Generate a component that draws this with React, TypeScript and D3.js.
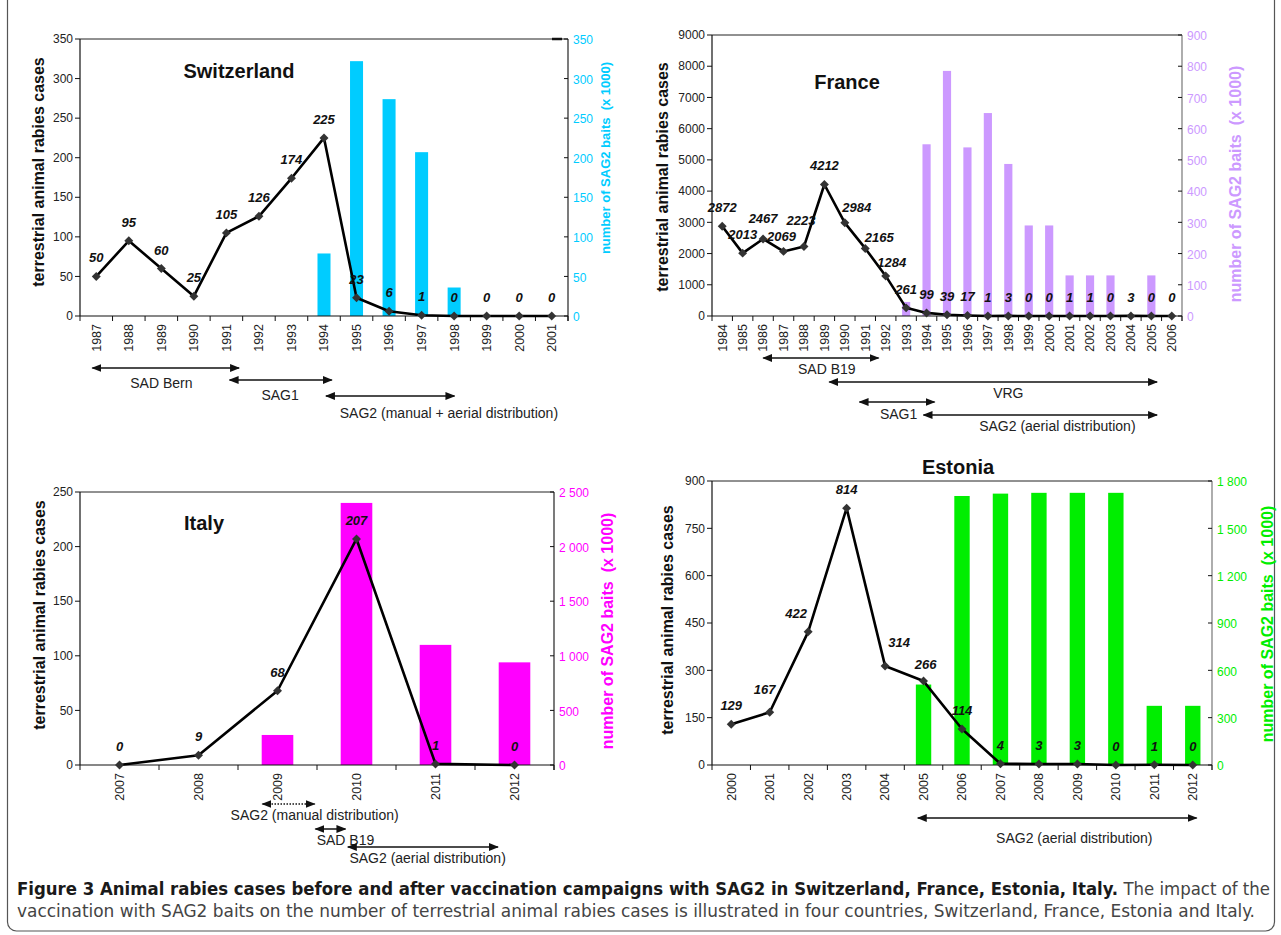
import React from "react";
import * as d3 from "d3";

const FONT = "'Liberation Sans', Arial, Helvetica, sans-serif";

// Switzerland
const swissYears = [1987, 1988, 1989, 1990, 1991, 1992, 1993, 1994, 1995, 1996, 1997, 1998, 1999, 2000, 2001];
const swissCases = [50, 95, 60, 25, 105, 126, 174, 225, 23, 6, 1, 0, 0, 0, 0];
const swissBaits = [null, null, null, null, null, null, null, 79, 322, 274, 207, 36, null, null, null];
const swissCaseTicks = [0, 50, 100, 150, 200, 250, 300, 350];
const swissBaitTicks = [0, 50, 100, 150, 200, 250, 300, 350];
const swissBaitLabels = ["0", "50", "100", "150", "200", "250", "300", "350"];
const swissRegimens = [
  { name: "SAD Bern", from: 1986.88, to: 1991.39, at: 1989.0, dotted: false },
  { name: "SAG1", from: 1991.1, to: 1994.24, at: 1992.65, dotted: false },
  { name: "SAG2 (manual + aerial distribution)", from: 1994.06, to: 1998.01, at: 1997.84, dotted: false },
];

// France
const franceYears = [1984, 1985, 1986, 1987, 1988, 1989, 1990, 1991, 1992, 1993, 1994, 1995, 1996, 1997, 1998, 1999, 2000, 2001, 2002, 2003, 2004, 2005, 2006];
const franceCases = [2872, 2013, 2467, 2069, 2223, 4212, 2984, 2165, 1284, 261, 99, 39, 17, 1, 3, 0, 0, 1, 1, 0, 3, 0, 0];
const franceBaits = [null, null, null, null, null, null, null, null, null, 45, 550, 785, 540, 650, 487, 290, 290, 130, 130, 130, null, 130, null];
const franceCaseTicks = [0, 1000, 2000, 3000, 4000, 5000, 6000, 7000, 8000, 9000];
const franceBaitTicks = [0, 100, 200, 300, 400, 500, 600, 700, 800, 900];
const franceBaitLabels = ["0", "100", "200", "300", "400", "500", "600", "700", "800", "900"];
const franceRegimens = [
  { name: "SAD B19", from: 1986.01, to: 1991.65, at: 1989.12, dotted: false },
  { name: "VRG", from: 1989.24, to: 2005.28, at: 1998.0, dotted: false },
  { name: "SAG1", from: 1990.72, to: 1994.39, at: 1992.63, dotted: false },
  { name: "SAG2 (aerial distribution)", from: 1993.85, to: 2005.28, at: 2000.4, dotted: false },
];

// Italy
const italyYears = [2007, 2008, 2009, 2010, 2011, 2012];
const italyCases = [0, 9, 68, 207, 1, 0];
const italyBaits = [null, null, 275, 2400, 1100, 940];
const italyCaseTicks = [0, 50, 100, 150, 200, 250];
const italyBaitTicks = [0, 500, 1000, 1500, 2000, 2500];
const italyBaitLabels = ["0", "500", "1 000", "1 500", "2 000", "2 500"];
const italyRegimens = [
  { name: "SAG2 (manual distribution)", from: 2008.81, to: 2009.47, at: 2009.47, dotted: true },
  { name: "SAD B19", from: 2009.48, to: 2009.86, at: 2009.86, dotted: false },
  { name: "SAG2 (aerial distribution)", from: 2009.89, to: 2011.79, at: 2010.9, dotted: false },
];

// Estonia
const estoniaYears = [2000, 2001, 2002, 2003, 2004, 2005, 2006, 2007, 2008, 2009, 2010, 2011, 2012];
const estoniaCases = [129, 167, 422, 814, 314, 266, 114, 4, 3, 3, 0, 1, 0];
const estoniaBaits = [null, null, null, null, null, 510, 1705, 1720, 1725, 1725, 1725, 375, 375];
const estoniaCaseTicks = [0, 150, 300, 450, 600, 750, 900];
const estoniaBaitTicks = [0, 300, 600, 900, 1200, 1500, 1800];
const estoniaBaitLabels = ["0", "300", "600", "900", "1 200", "1 500", "1 800"];
const estoniaRegimens = [
  { name: "SAG2 (aerial distribution)", from: 2004.85, to: 2012.1, at: 2008.92, dotted: false },
];

// layout: label nudges (px) keyed by year, where the original moved value labels
const franceNudge: Record<number, [number, number]> = {
  1986: [0, -2], 1987: [-2, 4], 1988: [-3, -8], 1990: [12, 3.5], 1991: [14, 8], 1992: [6, 5],
};
const estoniaNudge: Record<number, [number, number]> = {
  2001: [-5, -4], 2002: [-12, 0], 2004: [14, -5], 2005: [2, 1.5],
};

const panels = [
  {
    key: "ch", title: "Switzerland", years: swissYears, cases: swissCases, baits: swissBaits,
    caseTicks: swissCaseTicks, baitTicks: swissBaitTicks, baitLabels: swissBaitLabels, regimens: swissRegimens,
    left: 80, right: 568, top: 39, bottom: 316, color: "#00ccff", rightAxis: "#222", nudge: {},
    titleX: 239, titleY: 78, leftTitleX: 38, leftTitleY: 172, rightTitleX: 605, rightTitleY: 158, rightTitleSize: 13,
    arrowY: [368, 380, 396], labelY: [388, 400, 418], topDash: true,
  },
  {
    key: "fr", title: "France", years: franceYears, cases: franceCases, baits: franceBaits,
    caseTicks: franceCaseTicks, baitTicks: franceBaitTicks, baitLabels: franceBaitLabels, regimens: franceRegimens,
    left: 712, right: 1182, top: 35, bottom: 316, color: "#cc99ff", rightAxis: "#777", nudge: franceNudge,
    titleX: 847, titleY: 89, leftTitleX: 662, leftTitleY: 177, rightTitleX: 1235, rightTitleY: 184, rightTitleSize: 16,
    arrowY: [358, 382, 402, 415], labelY: [374, 398, 419, 431], topDash: false,
  },
  {
    key: "it", title: "Italy", years: italyYears, cases: italyCases, baits: italyBaits,
    caseTicks: italyCaseTicks, baitTicks: italyBaitTicks, baitLabels: italyBaitLabels, regimens: italyRegimens,
    left: 80, right: 554, top: 492, bottom: 765, color: "#ff00ff", rightAxis: "#222", nudge: {},
    titleX: 204, titleY: 530, leftTitleX: 39, leftTitleY: 615, rightTitleX: 607, rightTitleY: 631, rightTitleSize: 16,
    arrowY: [804, 829, 847], labelY: [820, 845, 863], topDash: false,
  },
  {
    key: "ee", title: "Estonia", years: estoniaYears, cases: estoniaCases, baits: estoniaBaits,
    caseTicks: estoniaCaseTicks, baitTicks: estoniaBaitTicks, baitLabels: estoniaBaitLabels, regimens: estoniaRegimens,
    left: 712, right: 1212, top: 481, bottom: 765, color: "#00ee00", rightAxis: "#777", nudge: estoniaNudge,
    titleX: 958, titleY: 474, leftTitleX: 667, leftTitleY: 620, rightTitleX: 1267, rightTitleY: 624, rightTitleSize: 16,
    arrowY: [818], labelY: [843], topDash: false,
  },
];

const marker = d3.symbol().type(d3.symbolSquare).size(40)();

function Panel({ p }: { p: any }) {
  const x = d3.scaleBand<number>().domain(p.years).range([p.left, p.right]);
  const bw = x.bandwidth();
  const cx = (yr: number) => (x(yr) as number) + bw / 2;
  const first = p.years[0];
  const last = p.years[p.years.length - 1];
  const yearPos = d3.scaleLinear().domain([first, last]).range([cx(first), cx(last)]);
  const yL = d3.scaleLinear().domain([0, p.caseTicks[p.caseTicks.length - 1]]).range([p.bottom, p.top]);
  const yR = d3.scaleLinear().domain([0, p.baitTicks[p.baitTicks.length - 1]]).range([p.bottom, p.top]);
  const pts: [number, number][] = p.years.map((yr: number, i: number) => [cx(yr), yL(p.cases[i])]);
  const line = d3.line()(pts) as string;
  const boundaries = [...p.years.map((yr: number) => x(yr) as number), p.right];

  return (
    <g>
      {/* bars */}
      {p.years.map((yr: number, i: number) =>
        p.baits[i] == null ? null : (
          <rect key={"b" + yr} x={(x(yr) as number) + bw * 0.3} width={bw * 0.4}
            y={yR(p.baits[i])} height={p.bottom - yR(p.baits[i])} fill={p.color} />
        )
      )}
      {/* frame lines */}
      <line x1={p.left} x2={p.right} y1={p.top} y2={p.top} stroke="#222" strokeWidth={1} />
      {p.topDash && <line x1={p.right - 16} x2={p.right - 6} y1={p.top} y2={p.top} stroke="#111" strokeWidth={2.5} />}
      <line x1={p.left} x2={p.left} y1={p.top} y2={p.bottom} stroke="#111" strokeWidth={1.2} />
      <line x1={p.right} x2={p.right} y1={p.top} y2={p.bottom + 5} stroke={p.rightAxis} strokeWidth={1.2} />
      <line x1={p.left} x2={p.right} y1={p.bottom} y2={p.bottom} stroke="#111" strokeWidth={1.2} />
      {/* left ticks */}
      {p.caseTicks.map((t: number) => (
        <g key={"l" + t}>
          <line x1={p.left - 5} x2={p.left} y1={yL(t)} y2={yL(t)} stroke="#111" />
          <text x={p.left - 7} y={yL(t)} dy="0.35em" textAnchor="end" fontSize={12} fill="#222">{t}</text>
        </g>
      ))}
      {/* right ticks */}
      {p.baitTicks.map((t: number, i: number) => (
        <g key={"r" + t}>
          <line x1={p.right - 4} x2={p.right} y1={yR(t)} y2={yR(t)} stroke="#111" />
          <text x={p.right + 5} y={yR(t) + 1} dy="0.35em" textAnchor="start" fontSize={12} fill={p.color}>{p.baitLabels[i]}</text>
        </g>
      ))}
      {/* x ticks */}
      {boundaries.map((bx: number, i: number) => (
        <line key={"xt" + i} x1={bx} x2={bx} y1={p.bottom} y2={p.bottom + 5} stroke="#111" />
      ))}
      {p.years.map((yr: number) => (
        <text key={"xl" + yr} transform={`translate(${cx(yr)},${p.bottom + 8}) rotate(-90)`} dy="0.35em"
          textAnchor="end" fontSize={12.5} fill="#222">{yr}</text>
      ))}
      {/* line + markers */}
      <path d={line} fill="none" stroke="#000" strokeWidth={2.6} strokeLinejoin="round" />
      {pts.map(([px, py], i) => (
        <path key={"m" + i} d={marker} transform={`translate(${px},${py}) rotate(45)`} fill="#333" />
      ))}
      {pts.map(([px, py], i) => {
        const [dx, dy] = p.nudge[p.years[i]] || [0, 0];
        return (
          <text key={"v" + i} x={px + dx} y={py - 14 + dy} textAnchor="middle" fontSize={13} fontWeight="bold"
            fontStyle="italic" fill="#111">{p.cases[i]}</text>
        );
      })}
      {/* titles */}
      <text x={p.titleX} y={p.titleY} textAnchor="middle" fontSize={20} fontWeight="bold" fill="#111">{p.title}</text>
      <text transform={`translate(${p.leftTitleX},${p.leftTitleY}) rotate(-90)`} dy="0.35em" textAnchor="middle"
        fontSize={16} fontWeight="bold" fill="#111">terrestrial animal rabies cases</text>
      <text transform={`translate(${p.rightTitleX},${p.rightTitleY}) rotate(-90)`} dy="0.35em" textAnchor="middle"
        fontSize={p.rightTitleSize} fontWeight="bold" fill={p.color} style={{ whiteSpace: "pre" }}>
        {"number of SAG2 baits  (x 1000)"}
      </text>
      {/* vaccine regimens */}
      {p.regimens.map((r: any, i: number) => (
        <g key={"a" + i}>
          <line x1={yearPos(r.from)} x2={yearPos(r.to)} y1={p.arrowY[i]} y2={p.arrowY[i]} stroke="#111"
            strokeWidth={r.dotted ? 1.6 : 1.5} strokeDasharray={r.dotted ? "1.5,1.5" : undefined}
            markerStart="url(#arrowStart)" markerEnd="url(#arrowEnd)" />
          <text x={yearPos(r.at)} y={p.labelY[i]} textAnchor="middle" fontSize={14} fill="#222">{r.name}</text>
        </g>
      ))}
    </g>
  );
}

export default function App() {
  return (
    <svg width={1281} height={935} style={{ position: "absolute", left: 0, top: 0, background: "#fff" }}
      fontFamily={FONT}>
      <defs>
        <marker id="arrowEnd" markerUnits="userSpaceOnUse" markerWidth={10} markerHeight={8} refX={9} refY={4} orient="auto">
          <path d="M0,0 L10,4 L0,8 z" fill="#111" />
        </marker>
        <marker id="arrowStart" markerUnits="userSpaceOnUse" markerWidth={10} markerHeight={8} refX={1} refY={4} orient="auto">
          <path d="M10,0 L0,4 L10,8 z" fill="#111" />
        </marker>
      </defs>
      <rect x={7.5} y={-20} width={1267} height={951} rx={9} fill="#fff" stroke="#555" strokeWidth={1.2} />
      {panels.map((p) => <Panel key={p.key} p={p} />)}
      <text x={17} y={895} fontSize={17} fontFamily="'DejaVu Sans Condensed', 'Liberation Sans Narrow', 'Arial Narrow', sans-serif"
        textLength={1253} lengthAdjust="spacingAndGlyphs">
        <tspan fontWeight="bold" fill="#1a1a1a">Figure 3 Animal rabies cases before and after vaccination campaigns with SAG2 in Switzerland, France, Estonia, Italy.</tspan>
        <tspan fill="#444"> The impact of the</tspan>
      </text>
      <text x={17} y={917} fontSize={17} fill="#444" fontFamily="'DejaVu Sans Condensed', 'Liberation Sans Narrow', 'Arial Narrow', sans-serif"
        textLength={1238} lengthAdjust="spacingAndGlyphs">
        vaccination with SAG2 baits on the number of terrestrial animal rabies cases is illustrated in four countries, Switzerland, France, Estonia and Italy.
      </text>
    </svg>
  );
}
